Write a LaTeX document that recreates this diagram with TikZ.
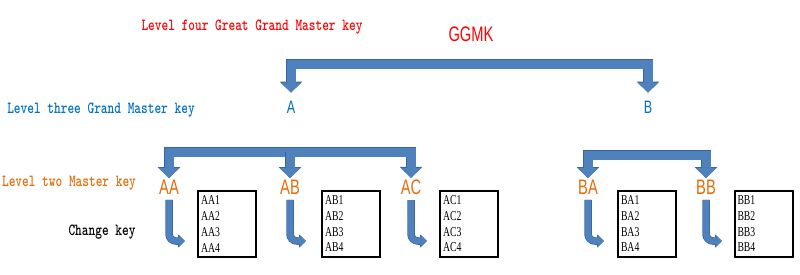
\documentclass[tikz,border=0pt]{standalone}
\usepackage{fontspec}
\usetikzlibrary{arrows.meta}
\newfontfamily\labelfont[FakeStretch=0.75, BoldFont=lmmonolt10-bold.otf]{lmmono10-regular.otf}
\newfontfamily\keyfont[FakeStretch=0.7]{Liberation Sans}
\newfontfamily\rowfont[FakeStretch=0.72]{Liberation Serif}
\definecolor{levelred}{HTML}{FF0000}
\definecolor{levelblue}{HTML}{0070C0}
\definecolor{levelorange}{HTML}{E46C0A}
\definecolor{arrowblue}{HTML}{4F81BD}
\definecolor{arrowedge}{HTML}{3A659A}

\begin{document}
\begin{tikzpicture}[x=1pt, y=1pt,
            levellabel/.style={font=\labelfont\bfseries\fontsize{17}{19}\selectfont},
            keynode/.style={font=\keyfont\fontsize{21}{24}\selectfont, inner xsep=1pt, inner ysep=2pt},
            keybox/.style={draw=black, line width=2pt, text width=52pt, align=left, minimum height=66pt,
                inner xsep=3pt, font=\rowfont\fontsize{13.5}{15.7}\selectfont},
            bracket/.style={draw=arrowblue, line width=9pt, line join=miter,
                {Triangle[width=20pt,length=10pt]}-{Triangle[width=20pt,length=10pt]},
                preaction={draw=arrowedge, line width=10.5pt, {Triangle[width=22pt,length=11pt]}-{Triangle[width=22pt,length=11pt]}}},
            stub/.style={draw=arrowblue, line width=9pt, -{Triangle[width=20pt,length=10pt]},
                preaction={draw=arrowedge, line width=10.5pt, -{Triangle[width=22pt,length=11pt]}}},
            bentarrow/.style={draw=arrowblue, line width=6pt, rounded corners=7pt, shorten <=3pt, -{Triangle[width=11pt,length=6pt]},
                preaction={draw=arrowedge, line width=7.5pt, -{Triangle[width=13pt,length=7pt]}}}
        ]
            \useasboundingbox (0,0) rectangle (800,274);

            % level labels (left)
            \node[levellabel, color=levelred] (lvlfour) at (252,247) {Level four Great Grand Master key};
            \node[levellabel, color=levelblue] (lvlthree) at (101,164) {Level three Grand Master key};
            \node[levellabel, color=levelorange] (lvltwo) at (69,91) {Level two Master key};
            \node[levellabel] (changelbl) at (102,42) {Change key};

            % keys
            \node[keynode, color=levelred] (GGMK) at (471,240) {GGMK};
            \node[keynode, color=levelblue, font=\keyfont\fontsize{18}{20}\selectfont, inner ysep=8pt] (A) at (291,167) {A};
            \node[keynode, color=levelblue, font=\keyfont\fontsize{18}{20}\selectfont, inner ysep=8pt] (B) at (648,167) {B};

            % master keys, their change keys and arrows
            \foreach \name/\x/\bx in {AA/169/227, AB/290/351, AC/411/469, BA/588/647, BB/706/763.5}{
                \node[keynode, color=levelorange] (\name) at (\x,86.5) {\name};
                \node[keybox] (\name box) at (\bx,50) {\name1\\\name2\\\name3\\\name4};
                \coordinate (\name end) at (\x+16,33);
                \draw[bentarrow] (\name.south) |- (\name end);
            }

            % bars
            \coordinate (topbar) at (470,210);
            \coordinate (abar) at (290,122);
            \coordinate (bbar) at (647,119);
            \draw[bracket] (A.north) |- (topbar) -| (B.north);
            \draw[bracket] (AA.north) |- (abar) -| (AC.north);
            \draw[stub] (AB.north |- abar) -- (AB.north);
            \draw[bracket] (BA.north) |- (bbar) -| (BB.north);

        \end{tikzpicture}
\end{document}
